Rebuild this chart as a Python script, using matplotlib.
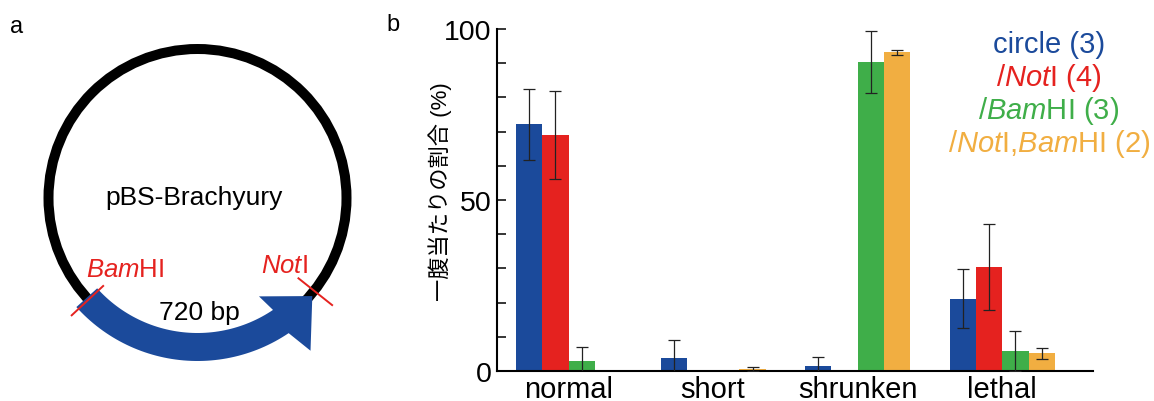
import matplotlib
matplotlib.use('Agg')
import matplotlib.pyplot as plt
import numpy as np
from matplotlib.patches import Circle, Polygon

plt.rcParams['font.family'] = ['Liberation Sans', 'Noto Sans CJK JP', 'DejaVu Sans']
plt.rcParams['mathtext.fontset'] = 'custom'
plt.rcParams['mathtext.rm'] = 'Liberation Sans'
plt.rcParams['mathtext.it'] = 'Liberation Sans:italic'

# データ
categories = ['normal', 'short', 'shrunken', 'lethal']
series_labels = ['circle (3)',
                 '$\\mathit{/Not}$I (4)',
                 '$\\mathit{/Bam}$HI (3)',
                 '$\\mathit{/Not}$I,$\\mathit{Bam}$HI (2)']
circle_mean = [72.2, 3.7, 1.6, 21.1]
circle_err = [10.4, 5.4, 2.6, 8.6]
noti_mean = [69.0, 0.0, 0.0, 30.3]
noti_err = [12.8, 0.0, 0.0, 12.6]
bamhi_mean = [2.8, 0.0, 90.3, 5.8]
bamhi_err = [4.3, 0.0, 9.1, 5.8]
both_mean = [0.0, 0.6, 93.2, 5.2]
both_err = [0.0, 0.5, 0.8, 1.6]
yticks_major = [0, 50, 100]

colors = ['#1b4a9b', '#e5221f', '#3fae49', '#f1ae41']

W, H = 1154, 402
fig = plt.figure(figsize=(W / 100, H / 100), dpi=100)

# ---- パネル a: プラスミド図 ----
ax_a = fig.add_axes([0, 0, 400 / W, 1])
ax_a.set_xlim(0, 400)
ax_a.set_ylim(402, 0)
ax_a.axis('off')

cx, cy, r = 197.5, 199, 149

def pt(radius, deg):
    t = np.deg2rad(deg)
    return cx + radius * np.cos(t), cy - radius * np.sin(t)

ax_a.add_patch(Circle((cx, cy), r, fill=False, lw=7.2, ec='black', zorder=1))

# 青い矢印 (720 bp)
th = np.linspace(222, 304, 60)
outer = [pt(163, a) for a in th]
inner = [pt(135, a) for a in th[::-1]]
head = [pt(190, 306.5), pt(151, 319.5), pt(116, 302)]
arrow = Polygon(outer + head + inner, closed=True, fc=colors[0], ec='none', zorder=2)
ax_a.add_patch(arrow)

# 制限酵素サイト
for ang in (223, 321.5):
    p1, p2 = pt(129, ang), pt(172, ang)
    ax_a.plot([p1[0], p2[0]], [p1[1], p2[1]], color=colors[1], lw=1.4, zorder=3)

ax_a.text(194, 198, 'pBS-Brachyury', fontsize=19, ha='center', va='center')
ax_a.text(86, 270, '$\\mathit{Bam}$HI', fontsize=18.5, color=colors[1], ha='left', va='center')
ax_a.text(284, 266, '$\\mathit{Not}$I', fontsize=18.5, color=colors[1], ha='center', va='center')
ax_a.text(199, 313, '720 bp', fontsize=19, ha='center', va='center', zorder=4)
fig.text(17 / W, 1 - 27 / H, 'a', fontsize=17, ha='center', va='center')
fig.text(393 / W, 1 - 25 / H, 'b', fontsize=17, ha='center', va='center')

# ---- パネル b: 棒グラフ ----
ax = fig.add_axes([497 / W, (H - 372) / H, (1093 - 497) / W, 342 / H])
means = [circle_mean, noti_mean, bamhi_mean, both_mean]
errs = [circle_err, noti_err, bamhi_err, both_err]
x = np.arange(len(categories)) * 5.5
for j in range(4):
    xs = x + (j - 1.5)
    ax.bar(xs, means[j], width=1.0, color=colors[j], zorder=2)
    e = np.array(errs[j])
    m = e > 0
    ax.errorbar(xs[m], np.array(means[j])[m], yerr=e[m], fmt='none',
                ecolor='#222222', elinewidth=0.9, capsize=4, capthick=0.9, zorder=3)

ax.set_xlim(-2.72, 19.95)
ax.set_ylim(0, 100)
ax.set_yticks(yticks_major)
ax.set_yticks(np.arange(0, 101, 10), minor=True)
ax.tick_params(axis='y', which='both', direction='in', length=6.7, width=1.1,
               labelsize=20.5, pad=4)
ax.set_xticks(x)
ax.set_xticklabels(categories)
ax.tick_params(axis='x', length=0, labelsize=21, pad=3)
for s in ('top', 'right'):
    ax.spines[s].set_visible(False)
ax.spines['left'].set_linewidth(1.5)
ax.spines['bottom'].set_linewidth(1.5)
ax.set_ylabel('一腹当たりの割合 (%)', fontsize=16, va='center')
ax.yaxis.set_label_coords(-0.096, 0.526)

# 凡例 (色付きテキスト)
for k, lab in enumerate(series_labels):
    fig.text(1049 / W, 1 - (45 + 33 * k) / H, lab, color=colors[k], fontsize=21,
             ha='center', va='center')

fig.savefig('out.png', dpi=100)
